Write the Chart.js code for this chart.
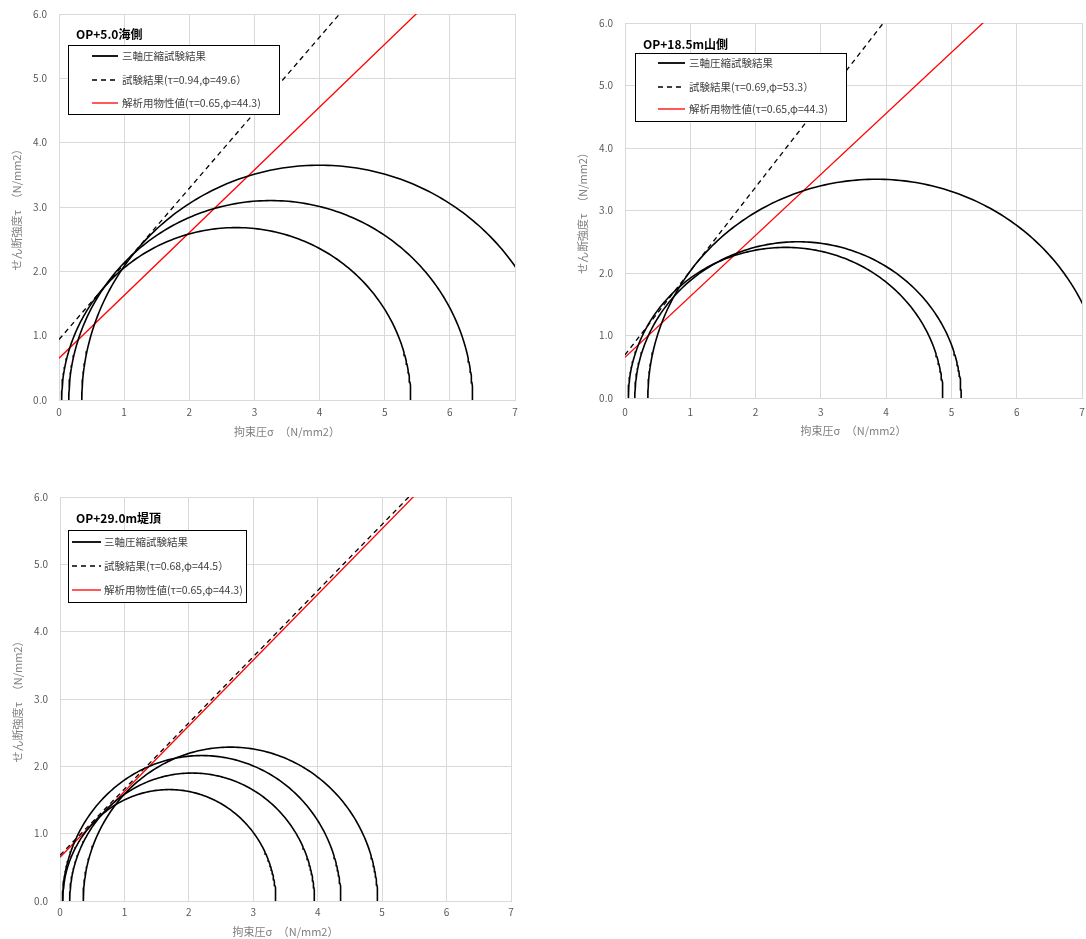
<!DOCTYPE html>
<html>
<head>
<meta charset="utf-8">
<script src="https://cdn.jsdelivr.net/npm/chart.js@4.4.0/dist/chart.umd.min.js"></script>
<style>
    body { margin: 0; background: #fff; width: 1086px; height: 939px; position: relative; overflow: hidden; }
    canvas { position: absolute; }
</style>
</head>
<body>
<canvas id="chartSea" width="530" height="449" style="left:0;top:-4px"></canvas>
<canvas id="chartMountain" width="527" height="445" style="left:566px;top:0"></canvas>
<canvas id="chartCrest" width="530" height="460" style="left:1px;top:479px"></canvas>
<script>
// 目盛り
const xTickValues = [0, 1, 2, 3, 4, 5, 6, 7];
const yTickValues = [0, 1, 2, 3, 4, 5, 6];

// OP+5.0海側 (σ3, σ1)
const seaSigma3 = [0.04, 0.15, 0.35];
const seaSigma1 = [5.40, 6.35, 7.65];
const seaTest = [0.94, 49.6];   // τ, φ

// OP+18.5m山側
const mountainSigma3 = [0.05, 0.15, 0.35];
const mountainSigma1 = [4.87, 5.15, 7.35];
const mountainTest = [0.69, 53.3];

// OP+29.0m堤頂
const crestSigma3 = [0.04, 0.15, 0.04, 0.36];
const crestSigma1 = [3.35, 3.95, 4.36, 4.93];
const crestTest = [0.68, 44.5];

// 解析用物性値
const designParams = [0.65, 44.3];

const FONT = '"Noto Sans CJK JP", "Noto Sans", sans-serif';

// モール円の点列
function circlePoints(s3, s1) {
    const c = (s1 + s3) / 2, r = (s1 - s3) / 2;
    const pts = [];
    for (let a = 0; a <= 180; a += 1) {
        const t = a * Math.PI / 180;
        pts.push({ x: c + r * Math.cos(t), y: r * Math.sin(t) });
    }
    return pts;
}

// 破壊包絡線 τ = c + σ tanφ
function envelopePoints(p) {
    const tan = Math.tan(p[1] * Math.PI / 180);
    return [{ x: 0, y: p[0] }, { x: 7, y: p[0] + 7 * tan }];
}

function fmtLabel(name, p, close) {
    return name + '(τ=' + p[0].toFixed(2) + ',φ=' + p[1].toFixed(1) + close;
}

// 凡例とタイトル（プロット内）
const boxLegend = {
    id: 'boxLegend',
    afterDraw(chart, args, opts) {
        const ctx = chart.ctx;
        const L = chart.chartArea.left, T = chart.chartArea.top;
        ctx.save();
        ctx.font = 'bold 12px ' + FONT;
        ctx.fillStyle = '#000';
        ctx.textBaseline = 'middle';
        ctx.textAlign = 'left';
        ctx.fillText(opts.title, L + opts.titlePos[0], T + opts.titlePos[1]);

        const b = opts.box;
        ctx.fillStyle = '#fff';
        ctx.fillRect(L + b[0], T + b[1], b[2], b[3]);
        ctx.strokeStyle = '#000';
        ctx.lineWidth = 1;
        ctx.strokeRect(L + b[0] + 0.5, T + b[1] + 0.5, b[2], b[3]);

        const styles = [
            { color: '#000', dash: [], width: 1.8 },
            { color: '#000', dash: [5, 4], width: 1.5 },
            { color: '#ff0000', dash: [], width: 1.3 }
        ];
        ctx.font = '10.5px ' + FONT;
        opts.labels.forEach((txt, i) => {
            const y = T + opts.rows[i];
            const st = styles[i];
            ctx.beginPath();
            ctx.setLineDash(st.dash);
            ctx.strokeStyle = st.color;
            ctx.lineWidth = st.width;
            ctx.moveTo(L + opts.sample[0], y);
            ctx.lineTo(L + opts.sample[1], y);
            ctx.stroke();
            ctx.setLineDash([]);
            ctx.fillStyle = '#404040';
            ctx.fillText(txt, L + opts.textX, y);
        });
        ctx.restore();
    }
};

function makeChart(id, s3, s1, test, lay) {
    const datasets = [];
    s3.forEach((v, i) => {
        datasets.push({
            data: circlePoints(v, s1[i]),
            borderColor: '#000', borderWidth: 1.6,
            showLine: true, pointRadius: 0
        });
    });
    datasets.push({
        data: envelopePoints(test),
        borderColor: '#000', borderWidth: 1.3, borderDash: [5, 4],
        showLine: true, pointRadius: 0
    });
    datasets.push({
        data: envelopePoints(designParams),
        borderColor: '#ff0000', borderWidth: 1.3,
        showLine: true, pointRadius: 0
    });

    const labels = [
        '三軸圧縮試験結果',
        fmtLabel('試験結果', test, '）'),
        fmtLabel('解析用物性値', designParams, ')')
    ];

    return new Chart(document.getElementById(id), {
        type: 'scatter',
        data: { datasets: datasets },
        options: {
            responsive: false,
            animation: false,
            layout: { padding: { top: lay.top, right: lay.right, left: 0, bottom: 0 } },
            plugins: {
                legend: { display: false },
                tooltip: { enabled: false },
                boxLegend: {
                    title: lay.title, titlePos: lay.titlePos, box: lay.box,
                    rows: lay.rows, sample: lay.sample, textX: lay.textX, labels: labels
                }
            },
            scales: {
                x: {
                    type: 'linear', min: 0, max: 7,
                    afterBuildTicks: s => { s.ticks = xTickValues.map(v => ({ value: v })); },
                    afterFit: s => { s.height = lay.xh; },
                    grid: { color: '#d9d9d9', drawTicks: false },
                    border: { color: '#d9d9d9' },
                    ticks: { padding: lay.xpad, color: '#595959', font: { family: FONT, size: 10 }, callback: v => String(v) },
                    title: { display: true, text: '拘束圧σ　（N/mm2）', color: '#808080',
                             font: { family: FONT, size: 11 }, padding: { top: 0, bottom: lay.xtitle } }
                },
                y: {
                    type: 'linear', min: 0, max: 6,
                    afterBuildTicks: s => { s.ticks = yTickValues.map(v => ({ value: v })); },
                    afterFit: s => { s.width = 59; },
                    grid: { color: '#d9d9d9', drawTicks: false },
                    border: { color: '#d9d9d9' },
                    ticks: { padding: 12, color: '#595959', font: { family: FONT, size: 10 }, callback: v => v.toFixed(1) },
                    title: { display: true, text: 'せん断強度τ　（N/mm2）', color: '#808080',
                             font: { family: FONT, size: 11 }, padding: { top: 10, bottom: 0 } }
                }
            }
        },
        plugins: [boxLegend]
    });
}

makeChart('chartSea', seaSigma3, seaSigma1, seaTest, {
    title: 'OP+5.0海側', top: 18, right: 15, xh: 45, xpad: 6, xtitle: 6.4,
    titlePos: [17, 20], box: [9, 31, 211, 69], rows: [42, 66, 89], sample: [33, 59], textX: 63
});
makeChart('chartMountain', mountainSigma3, mountainSigma1, mountainTest, {
    title: 'OP+18.5m山側', top: 23, right: 11, xh: 47, xpad: 8, xtitle: 7.4,
    titlePos: [18, 21], box: [10, 30, 211, 68], rows: [40, 64, 86], sample: [33, 60], textX: 64
});
makeChart('chartCrest', crestSigma3, crestSigma1, crestTest, {
    title: 'OP+29.0m堤頂', top: 18, right: 20, xh: 38, xpad: 5, xtitle: 0.6,
    titlePos: [16, 21], box: [8, 33, 178, 72], rows: [45, 69, 93], sample: [12, 41], textX: 44
});
</script>
</body>
</html>
